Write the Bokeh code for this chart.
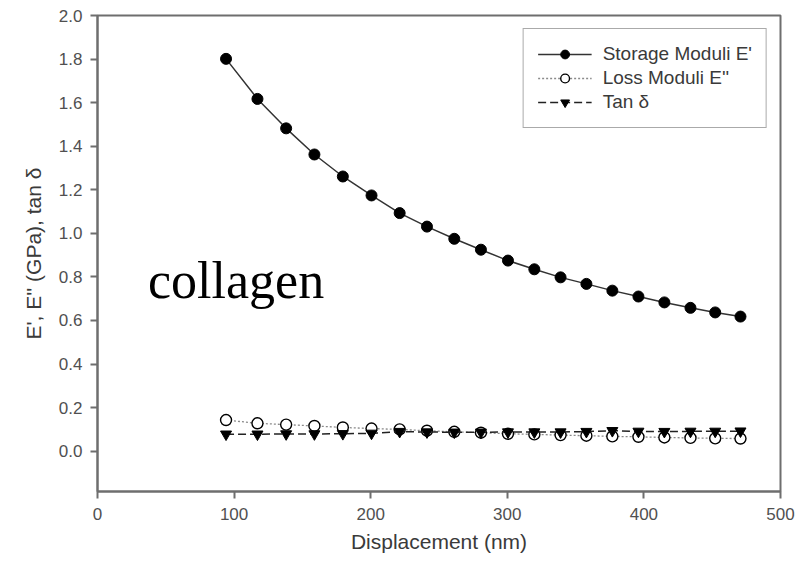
from bokeh.plotting import figure
from bokeh.models import Range1d, Legend, LegendItem, Label, FixedTicker, NumeralTickFormatter
from bokeh.embed import file_html
from bokeh.resources import INLINE

# Dynamic mechanical response of collagen versus indentation displacement
displacement = [94.1, 117.1, 138.1, 158.8, 179.6, 200.6, 221.2, 241.2, 261.2, 280.7,
                300.5, 319.8, 339.0, 357.9, 376.9, 396.0, 415.0, 434.1, 452.2, 470.7]
storage_modulus = [1.801, 1.617, 1.482, 1.362, 1.261, 1.174, 1.093, 1.031, 0.975, 0.925,
                   0.875, 0.835, 0.798, 0.768, 0.737, 0.710, 0.683, 0.658, 0.637, 0.618]
loss_modulus = [0.143, 0.128, 0.122, 0.116, 0.109, 0.104, 0.100, 0.094, 0.089, 0.085,
                0.080, 0.077, 0.074, 0.071, 0.068, 0.066, 0.063, 0.061, 0.059, 0.058]
tan_delta = [0.078, 0.078, 0.079, 0.079, 0.080, 0.082, 0.090, 0.088, 0.087, 0.087,
             0.088, 0.088, 0.088, 0.090, 0.094, 0.091, 0.090, 0.091, 0.091, 0.092]

x_ticks = [0, 100, 200, 300, 400, 500]
y_ticks = [0.0, 0.2, 0.4, 0.6, 0.8, 1.0, 1.2, 1.4, 1.6, 1.8, 2.0]

FONT = "Liberation Sans"
AXIS_GREY = "#6e6e6e"
TEXT_GREY = "#3a3a3a"

p = figure(width=812, height=563, output_backend="svg", toolbar_location=None,
           x_range=Range1d(0, 500), y_range=Range1d(-0.185, 2.0),
           min_border_left=97, min_border_right=32, min_border_top=15, min_border_bottom=72)

p.background_fill_color = "white"
p.border_fill_color = "white"
p.outline_line_color = AXIS_GREY
p.outline_line_width = 2
p.grid.visible = False

for ax in (p.xaxis[0], p.yaxis[0]):
    ax.axis_line_color = AXIS_GREY
    ax.axis_line_width = 2
    ax.major_tick_line_color = AXIS_GREY
    ax.major_tick_line_width = 2
    ax.major_tick_out = 7
    ax.major_tick_in = 0
    ax.minor_tick_line_color = None
    ax.major_label_text_font = FONT
    ax.major_label_text_font_size = "17px"
    ax.major_label_text_color = "#505050"
    ax.axis_label_text_font = FONT
    ax.axis_label_text_font_size = "21px"
    ax.axis_label_text_font_style = "normal"
    ax.axis_label_text_color = TEXT_GREY

p.xaxis.ticker = FixedTicker(ticks=x_ticks)
p.yaxis.ticker = FixedTicker(ticks=y_ticks)
p.yaxis.formatter = NumeralTickFormatter(format="0.0")
p.xaxis.major_label_standoff = 9
p.yaxis.major_label_standoff = 8
p.xaxis.axis_label = "Displacement (nm)"
p.yaxis.axis_label = "E', E'' (GPa), tan \u03b4"
p.xaxis.axis_label_standoff = 7
p.yaxis.axis_label_standoff = 11

# Storage modulus: solid line with filled circles
s_line = p.line(displacement, storage_modulus, line_color="#333333", line_width=1.5)
s_pts = p.scatter(displacement, storage_modulus, marker="circle", size=11,
                  fill_color="black", line_color="black")

# Loss modulus: dotted line with open circles
l_line = p.line(displacement, loss_modulus, line_color="#8a8a8a", line_width=1.3,
                line_dash="2 2")
l_pts = p.scatter(displacement, loss_modulus, marker="circle", size=11,
                  fill_color="white", line_color="black", line_width=1.4)

# Loss tangent: dashed line with inverted triangles
t_line = p.line(displacement, tan_delta, line_color="#222222", line_width=1.5,
                line_dash="8 4")
t_pts = p.scatter(displacement, tan_delta, marker="inverted_triangle", size=11,
                  fill_color="black", line_color="black")

legend = Legend(items=[
    LegendItem(label="Storage Moduli E'", renderers=[s_line, s_pts]),
    LegendItem(label="Loss Moduli E''", renderers=[l_line, l_pts]),
    LegendItem(label="Tan \u03b4", renderers=[t_line, t_pts]),
])
legend.location = "top_right"
legend.margin = 13
legend.padding = 14
legend.spacing = 2
legend.glyph_width = 54
legend.glyph_height = 22
legend.label_height = 22
legend.label_standoff = 11
legend.label_text_font = FONT
legend.label_text_font_size = "19px"
legend.label_text_color = TEXT_GREY
legend.border_line_color = "#555555"
legend.border_line_width = 1
legend.background_fill_alpha = 1
p.add_layout(legend)

p.add_layout(Label(x=37, y=0.785, text="collagen", text_font="Liberation Serif",
                   text_font_size="52px", text_color="black", text_baseline="alphabetic"))

open("out.html", "w").write(file_html(p, INLINE))
